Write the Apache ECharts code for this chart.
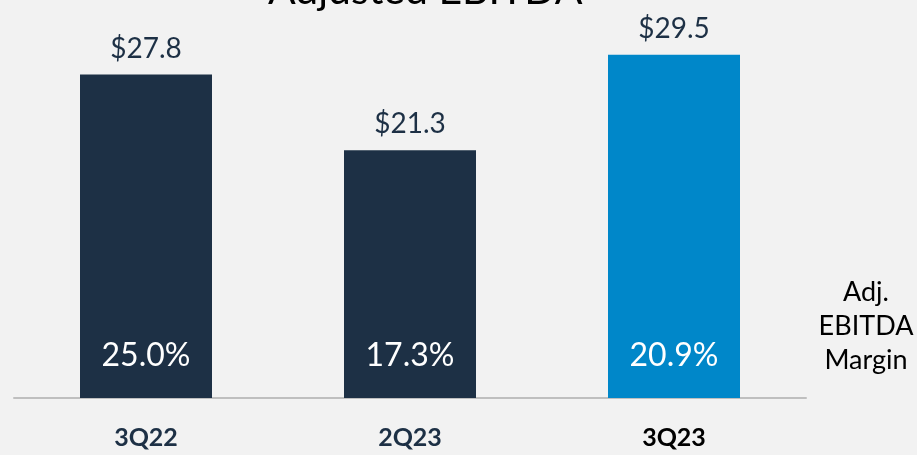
<!DOCTYPE html>
<html>
<head>
<meta charset="utf-8">
<script src="https://cdn.jsdelivr.net/npm/echarts@6/dist/echarts.min.js"></script>
<style>
  html, body { margin: 0; padding: 0; background: #f2f2f2; }
  #main { width: 917px; height: 455px; }
</style>
</head>
<body>
<div id="main"></div>
<script>
var quarters = ['3Q22', '2Q23', '3Q23'];
var ebitda = [27.8, 21.3, 29.5];
var margins = [25.0, 17.3, 20.9];
var barColors = ['#1d3045', '#1d3045', '#0087c9'];
var labelColors = ['#1d3045', '#1d3045', '#000000'];

var myChart = echarts.init(document.getElementById('main'));
var font = 'Lato, "Open Sans", sans-serif';

var option = {
    backgroundColor: '#f2f2f2',
    animation: false,
    grid: { left: 14, right: 111, top: 49, bottom: 57 },
    xAxis: {
        type: 'category',
        data: quarters,
        axisLine: { lineStyle: { color: '#bfbfbf', width: 2 } },
        axisTick: { show: false },
        axisLabel: {
            margin: 27,
            fontSize: 25,
            fontWeight: 'bold',
            fontFamily: font,
            color: function(value, index) { return labelColors[index]; }
        }
    },
    yAxis: {
        type: 'value',
        min: 0,
        max: 30,
        show: false,
        splitLine: { show: false }
    },
    series: [{
        type: 'bar',
        barWidth: 132,
        data: ebitda.map(function(v, i) {
            return { value: v, itemStyle: { color: barColors[i] } };
        }),
        label: {
            show: true,
            position: 'top',
            distance: 12,
            fontSize: 28,
            fontFamily: font,
            color: '#1d3045',
            formatter: function(p) { return '$' + p.value.toFixed(1); }
        }
    }, {
        type: 'bar',
        barWidth: 132,
        barGap: '-100%',
        data: ebitda,
        itemStyle: { color: 'rgba(0,0,0,0)' },
        label: {
            show: true,
            position: 'insideBottom',
            distance: 26,
            fontSize: 32,
            fontFamily: font,
            color: '#ffffff',
            formatter: function(p) { return margins[p.dataIndex].toFixed(1) + '%'; }
        }
    }],
    graphic: [{
        type: 'text',
        left: 268,
        top: -30,
        style: {
            text: 'Adjusted EBITDA',
            fontSize: 41,
            fontFamily: font,
            fill: '#000000'
        }
    }, {
        type: 'text',
        x: 866,
        y: 275,
        style: {
            text: 'Adj.\nEBITDA\nMargin',
            fontSize: 27,
            lineHeight: 34,
            fontFamily: font,
            fill: '#000000',
            align: 'center'
        }
    }]
};
myChart.setOption(option);
</script>
</body>
</html>
